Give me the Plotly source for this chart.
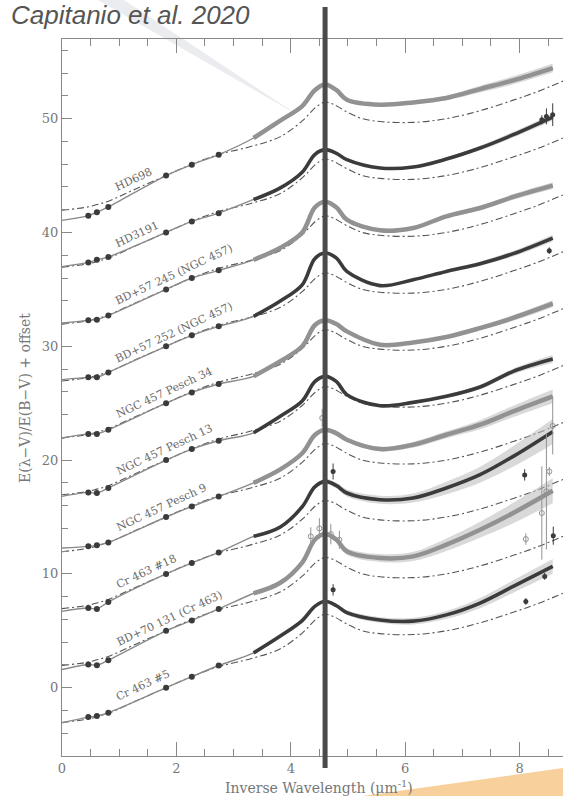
import plotly.graph_objects as go

# ---------------- data ----------------
star_names = ["HD698", "HD3191", "BD+57 245 (NGC 457)", "BD+57 252 (NGC 457)",
              "NGC 457 Pesch 34", "NGC 457 Pesch 13", "NGC 457 Pesch 9",
              "Cr 463 #18", "BD+70 131 (Cr 463)", "Cr 463 #5"]
offsets = [45, 40, 35, 30, 25, 20, 15, 10, 5, 0]
open_style = [True, False, True, False, True, False, True, False, True, False]

# photometric points (K, H, J, V, B, U) : E(l-V)/E(B-V) without offset
phot_x = [0.46, 0.61, 0.81, 1.82, 2.27, 2.74]
phot_hd698 = [-3.52, -3.23, -2.76, 0.0, 0.96, 1.84]
phot_hd3191 = [-2.63, -2.40, -2.15, 0.0, 0.97, 1.70]
phot_bd245 = [-2.72, -2.66, -2.30, 0.0, 1.00, 1.67]
phot_bd252 = [-2.73, -2.73, -2.30, 0.0, 0.96, 1.75]
phot_p34 = [-2.70, -2.70, -2.33, 0.0, 0.95, 1.69]
phot_p13 = [-2.84, -2.90, -2.45, 0.0, 0.97, 1.70]
phot_p9 = [-2.58, -2.49, -2.23, 0.0, 0.93, 1.81]
phot_cr18 = [-3.00, -3.08, -2.47, 0.0, 0.96, 1.89]
phot_bd70 = [-2.96, -3.02, -2.58, 0.0, 0.91, 1.92]
phot_cr5 = [-2.58, -2.49, -2.20, 0.0, 0.97, 1.95]

# fitted curve value at x = 0
model_x0 = [-3.94, -3.00, -2.96, -2.93, -3.06, -3.19, -2.73, -3.29, -3.40, -3.08]

# UV spectra (smoothed reading of the data)
uv_x = [3.35, 3.81, 4.2, 4.42, 4.6, 4.8, 4.98, 5.56, 6.14, 6.72, 7.31, 7.89, 8.58]
uv_hd698 = [3.3, 4.8, 6.1, 7.5, 8.0, 7.5, 6.67, 6.23, 6.43, 6.82, 7.6, 8.37, 9.45]
uv_hd3191 = [2.9, 3.9, 5.3, 6.85, 7.28, 6.95, 6.4, 5.67, 5.75, 6.45, 7.42, 8.59, 10.14]
uv_bd245 = [2.6, 3.64, 5.0, 7.2, 7.7, 7.2, 6.12, 5.19, 5.39, 6.42, 7.15, 8.12, 9.11]
uv_bd252 = [2.63, 3.96, 5.4, 7.7, 8.2, 7.75, 6.58, 5.33, 5.85, 6.58, 7.26, 8.14, 9.51]
uv_p34 = [2.36, 3.67, 5.0, 6.85, 7.28, 6.95, 6.31, 5.14, 5.34, 5.82, 6.6, 7.49, 8.74]
uv_p13 = [2.4, 3.84, 5.2, 6.9, 7.36, 6.9, 5.75, 4.78, 5.07, 5.6, 6.42, 7.8, 8.88]
uv_p9 = [3.0, 4.16, 5.6, 7.2, 7.67, 7.35, 6.79, 5.97, 6.35, 7.23, 8.11, 9.28, 10.6]
uv_cr18 = [3.3, 4.1, 5.9, 7.65, 8.13, 7.75, 7.11, 6.52, 6.67, 7.55, 8.72, 10.33, 12.5]
uv_bd70 = [3.3, 4.2, 6.0, 8.0, 8.5, 8.0, 6.98, 6.4, 6.54, 7.57, 8.88, 10.35, 12.3]
uv_cr5 = [3.06, 4.52, 5.9, 7.15, 7.6, 7.2, 6.6, 5.95, 5.85, 6.4, 7.44, 8.9, 10.66]

# half-width of the grey uncertainty band of the fit
band_hd698 = [0.1, 0.1, 0.1, 0.1, 0.1, 0.1, 0.1, 0.12, 0.15, 0.2, 0.3, 0.35, 0.4]
band_hd3191 = [0.1, 0.1, 0.1, 0.1, 0.1, 0.1, 0.1, 0.1, 0.12, 0.15, 0.2, 0.25, 0.3]
band_bd245 = [0.1, 0.1, 0.1, 0.1, 0.1, 0.1, 0.1, 0.1, 0.12, 0.15, 0.2, 0.25, 0.3]
band_bd252 = [0.1, 0.1, 0.1, 0.1, 0.1, 0.1, 0.1, 0.1, 0.12, 0.15, 0.2, 0.25, 0.3]
band_p34 = [0.1, 0.1, 0.1, 0.1, 0.1, 0.1, 0.1, 0.1, 0.12, 0.15, 0.2, 0.25, 0.3]
band_p13 = [0.1, 0.1, 0.1, 0.1, 0.1, 0.1, 0.1, 0.1, 0.12, 0.15, 0.2, 0.25, 0.35]
band_p9 = [0.1, 0.1, 0.1, 0.1, 0.12, 0.12, 0.15, 0.2, 0.25, 0.3, 0.4, 0.5, 0.6]
band_cr18 = [0.15, 0.15, 0.15, 0.15, 0.2, 0.25, 0.3, 0.35, 0.4, 0.55, 0.7, 0.9, 1.1]
band_bd70 = [0.15, 0.15, 0.15, 0.15, 0.2, 0.25, 0.3, 0.35, 0.4, 0.55, 0.7, 0.9, 1.1]
band_cr5 = [0.12, 0.12, 0.12, 0.12, 0.15, 0.15, 0.2, 0.25, 0.3, 0.35, 0.45, 0.55, 0.65]

# average Galactic curve (dash-dot), same for every star
avg_x = [0, 0.46, 0.61, 0.81, 1.3, 1.82, 2.27, 2.74, 3.3, 3.81, 4.2, 4.45, 4.6,
         4.75, 4.98, 5.25, 5.56, 6.14, 6.72, 7.31, 7.89, 8.3, 8.76]
avg_y = [-3.05, -2.75, -2.55, -2.25, -1.15, 0.0, 1.0, 1.85, 2.55, 3.4, 4.8, 6.05, 6.45,
         6.25, 5.6, 5.0, 4.75, 4.67, 5.0, 5.7, 6.63, 7.35, 8.3]

# individual points with error bars (absolute y)
err_dark_x = [8.39, 8.47, 8.58, 8.52, 8.09, 8.59, 8.11, 8.44, 4.74, 4.74]
err_dark_y = [49.9, 50.2, 50.35, 38.4, 18.7, 13.36, 7.58, 9.78, 19.0, 8.6]
err_dark_e = [0.4, 0.7, 1.0, 0.3, 0.5, 0.8, 0.3, 0.3, 0.7, 0.5]
err_gray_x = [8.58, 8.39, 8.47, 8.52, 8.11, 4.55, 4.35, 4.5, 4.7, 4.85]
err_gray_y = [23.0, 15.35, 17.25, 19.0, 13.06, 23.7, 13.3, 14.0, 13.5, 13.0]
err_gray_e = [2.5, 4.1, 5.1, 0.4, 0.5, 0.8, 0.8, 0.9, 0.9, 0.8]

# label positions (data coordinates, centre of the rotated text)
label_x = [1.25, 1.31, 1.96, 1.96, 1.80, 1.80, 1.74, 1.48, 1.88, 1.41]
label_y = [44.64, 39.8, 36.3, 31.2, 25.9, 20.97, 15.8, 10.2, 6.1, 0.2]

bump_x = 4.6
x_ticks = [0, 2, 4, 6, 8]
y_ticks = [0, 10, 20, 30, 40, 50]

phot_all = [phot_hd698, phot_hd3191, phot_bd245, phot_bd252, phot_p34,
            phot_p13, phot_p9, phot_cr18, phot_bd70, phot_cr5]
uv_all = [uv_hd698, uv_hd3191, uv_bd245, uv_bd252, uv_p34,
          uv_p13, uv_p9, uv_cr18, uv_bd70, uv_cr5]
band_all = [band_hd698, band_hd3191, band_bd245, band_bd252, band_p34,
            band_p13, band_p9, band_cr18, band_bd70, band_cr5]

# ---------------- layout geometry ----------------
W, H = 563, 796
ML, MT, MB, MR = 62, 39, 40, 0
X_RANGE = [0, 8.76]
Y_RANGE = [-6, 57]
PW = W - ML - MR
PH = H - MT - MB


def paper(px, py):
    return (px - ML) / PW, (H - MB - py) / PH


def path_from(points):
    s = ""
    for k, (px, py) in enumerate(points):
        u, v = paper(px, py)
        s += ("M" if k == 0 else "L") + f"{u:.4f},{v:.4f} "
    return s + "Z"


DARK = "#3b3b3b"
GRAY = "#929292"
SERIF = "DejaVu Serif"

fig = go.Figure()

for i, name in enumerate(star_names):
    off = offsets[i]
    uv = [v + off for v in uv_all[i]]
    up = [v + w for v, w in zip(uv, band_all[i])]
    lo = [v - w for v, w in zip(uv, band_all[i])]
    fig.add_trace(go.Scatter(x=uv_x, y=up, mode="lines", hoverinfo="skip",
                             line=dict(width=0, shape="spline"), showlegend=False))
    fig.add_trace(go.Scatter(x=uv_x, y=lo, mode="lines", hoverinfo="skip", fill="tonexty",
                             fillcolor="rgba(185,185,185,0.55)",
                             line=dict(width=0, shape="spline"), showlegend=False))
    # average curve
    fig.add_trace(go.Scatter(x=avg_x, y=[v + off for v in avg_y], mode="lines",
                             line=dict(color="#555555", width=1.1, dash="7px,3px,2px,3px",
                                       shape="spline"),
                             showlegend=False, hoverinfo="skip"))
    # fitted curve
    mx = [0.0] + phot_x + uv_x
    my = [model_x0[i] + off] + [v + off for v in phot_all[i]] + uv
    fig.add_trace(go.Scatter(x=mx, y=my, mode="lines",
                             line=dict(color="#8a8a8a", width=1.4, shape="spline",
                                       smoothing=0.9),
                             showlegend=False, hoverinfo="skip"))
    # UV spectrum
    col = GRAY if open_style[i] else DARK
    fig.add_trace(go.Scatter(x=uv_x, y=uv, mode="lines",
                             line=dict(color=col, width=4.5 if open_style[i] else 3.6,
                                       shape="spline"),
                             name=name, showlegend=False))
    # photometry
    fig.add_trace(go.Scatter(x=phot_x, y=[v + off for v in phot_all[i]], mode="markers",
                             marker=dict(color=DARK, size=6), showlegend=False))

fig.add_trace(go.Scatter(x=err_gray_x, y=err_gray_y, mode="markers",
                         marker=dict(symbol="circle-open", color=GRAY, size=5),
                         error_y=dict(type="data", array=err_gray_e, color=GRAY,
                                      thickness=1, width=0),
                         showlegend=False))
fig.add_trace(go.Scatter(x=err_dark_x, y=err_dark_y, mode="markers",
                         marker=dict(color=DARK, size=5),
                         error_y=dict(type="data", array=err_dark_e, color=DARK,
                                      thickness=1, width=0),
                         showlegend=False))

annotations = []
for i, name in enumerate(star_names):
    annotations.append(dict(x=label_x[i], y=label_y[i], xref="x", yref="y", text=name,
                            showarrow=False, textangle=-25,
                            font=dict(family=SERIF, size=11, color="#6a6a6a")))

tx, ty = paper(319, 787)
annotations.append(dict(x=tx, y=ty, xref="paper", yref="paper", xanchor="center",
                        yanchor="middle",
                        text="Inverse Wavelength (μm<sup>-1</sup>)", showarrow=False,
                        font=dict(family=SERIF, size=14, color="#777777")))
tx, ty = paper(25, 398)
annotations.append(dict(x=tx, y=ty, xref="paper", yref="paper", textangle=-90,
                        xanchor="center", yanchor="middle",
                        text="E(λ−V)/E(B−V) + offset", showarrow=False,
                        font=dict(family=SERIF, size=14, color="#777777")))
tx, ty = paper(9, 15)
annotations.append(dict(x=tx, y=ty, xref="paper", yref="paper", xanchor="left",
                        yanchor="middle", text="<i>Capitanio et al. 2020</i>",
                        showarrow=False,
                        font=dict(family="Liberation Sans", size=26, color="#555555")))

line_u = (bump_x - X_RANGE[0]) / (X_RANGE[1] - X_RANGE[0])
_, ly0 = paper(0, 768)
_, ly1 = paper(0, 7)

shapes = [
    dict(type="path", xref="paper", yref="paper", layer="below",
         path=path_from([(98, 0), (124, 0), (304, 119), (296, 114)]),
         fillcolor="rgba(205,208,216,0.4)", line=dict(width=0)),
    dict(type="path", xref="paper", yref="paper", layer="below",
         path=path_from([(355, 797), (564, 768), (564, 797)]),
         fillcolor="#f7d09b", line=dict(width=0)),
    dict(type="line", xref="paper", yref="paper", layer="above",
         x0=line_u, x1=line_u, y0=ly0, y1=ly1,
         line=dict(color="#4a4a4a", width=5)),
]

axis_font = dict(family=SERIF, size=13, color="#777777")
fig.update_layout(
    width=W, height=H,
    margin=dict(l=ML, r=MR, t=MT, b=MB, pad=0),
    paper_bgcolor="white", plot_bgcolor="white",
    annotations=annotations, shapes=shapes,
    xaxis=dict(range=X_RANGE, tickvals=x_ticks, ticks="inside", ticklen=14,
               tickcolor="#888888", tickwidth=1.2, showline=True, linecolor="#888888",
               linewidth=1.2, mirror="allticks", showgrid=False, zeroline=False,
               tickfont=axis_font,
               minor=dict(dtick=0.5, ticks="inside", ticklen=7, tickcolor="#888888",
                          tickwidth=1.2, showgrid=False)),
    yaxis=dict(range=Y_RANGE, tickvals=y_ticks, ticks="inside", ticklen=10,
               tickcolor="#888888", tickwidth=1.2, showline=True, linecolor="#888888",
               linewidth=1.2, mirror=False, showgrid=False, zeroline=False,
               tickfont=axis_font,
               minor=dict(dtick=2, ticks="inside", ticklen=6, tickcolor="#888888",
                          tickwidth=1.2, showgrid=False)),
    showlegend=False,
)

fig.write_html("out.html")
